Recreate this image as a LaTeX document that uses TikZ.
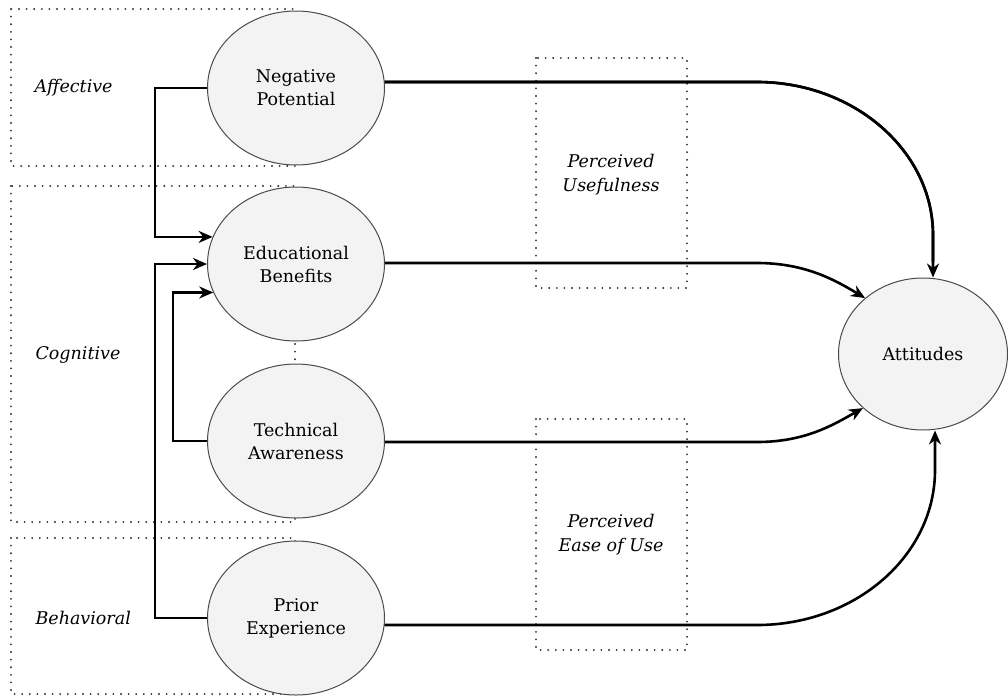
\documentclass[tikz,border=0pt]{standalone}
\usepackage{fontspec}
\setmainfont{DejaVu Serif}
\usetikzlibrary{arrows.meta,shapes.geometric}
\definecolor{ellfill}{HTML}{F3F3F3}
\definecolor{ellline}{HTML}{4A4A4A}
\definecolor{dotcol}{HTML}{333333}
\begin{document}
\begin{tikzpicture}[x=1pt,y=-1pt,
  latent/.style={ellipse, draw=ellline, fill=ellfill, line width=1pt,
    minimum width=177pt, minimum height=154pt, align=center, inner sep=0pt,
    font=\fontsize{17.5}{23}\selectfont},
  conn/.style={line width=2.6pt, draw=black},
  arr/.style={conn, -{Stealth[length=14pt,width=12pt,inset=4.5pt]}},
  dotbox/.style={draw=dotcol, line width=2.1pt, line cap=round, dash pattern=on 0pt off 7.6pt},
  grp/.style={font=\itshape\fontsize{17.5}{24}\selectfont, align=center},
  side/.style={font=\itshape\fontsize{17.5}{23}\selectfont, anchor=west}]
\useasboundingbox (0,0) rectangle (1008,696);
% group boxes
\draw[dotbox] (11,9) rectangle (295,166);
\draw[dotbox] (11,186) rectangle (295,522);
\draw[dotbox] (11,538) rectangle (295,694);
\draw[dotbox] (536,58) rectangle (687,288);
\draw[dotbox] (536,419) rectangle (687,650);
% group labels
\node[side] (laff) at (31,88) {Affective};
\node[side] (lcog) at (32,355) {Cognitive};
\node[side] (lbeh) at (32,618) {Behavioral};
\node[grp] (pu) at (611,175) {Perceived\\Usefulness};
\node[grp] (peou) at (611,535) {Perceived\\Ease of Use};
% connectors (drawn before the ellipses)
\draw[conn] (296,82) -- (757,82) .. controls (854,82) and (933,151) .. (933,235) -- (933,262);
\draw[conn] (296,263) -- (757,263);
\draw[conn] (296,442) -- (757,442);
\draw[conn] (296,625) -- (757,625);
% latent variables
\node[latent] (NP) at (296,88) {Negative\\Potential};
\node[latent] (EB) at (296,264) {Educational\\Benefits};
\node[latent] (TA) at (296,441) {Technical\\Awareness};
\node[latent] (PE) at (296,618) {Prior\\Experience};
\node[latent, minimum width=169pt, minimum height=152pt] (AT) at (923,354) {Attitudes};
% connectors to Attitudes
\draw[arr] ([yshift=6pt]NP.east) -- (757,82) .. controls (854,82) and (933,151) .. (933,235) -- ([xshift=10pt]AT.north);
\draw[arr] ([yshift=1pt]EB.east) -- (757,263) .. controls (805,263) and (835,280) .. (AT.136);
\draw[arr] ([yshift=-1pt]TA.east) -- (757,442) .. controls (805,442) and (833,425) .. (AT.222);
\draw[arr] ([yshift=-7pt]PE.east) -- (757,625) .. controls (855,625) and (935,556) .. (935,470) -- ([xshift=12pt]AT.south);
% connectors into Educational Benefits
\draw[arr] (NP.west) -- (155,88) |- (EB.162);
\draw[arr] (PE.west) -- (155,618) |- (EB.west);
\draw[arr] (TA.west) -- (173,441) |- (EB.199);
\end{tikzpicture}
\end{document}
